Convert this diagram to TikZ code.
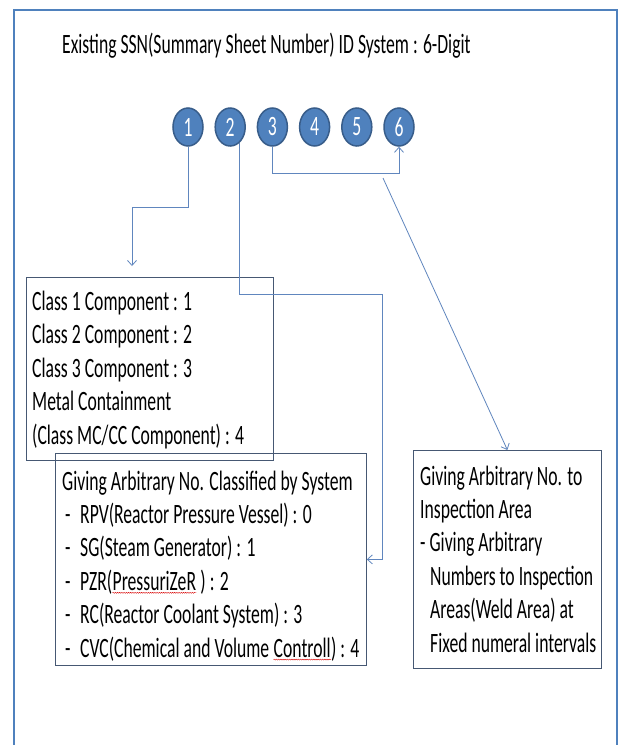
\documentclass[tikz,border=0pt]{standalone}
\usepackage{fontspec}
\setmainfont[FakeStretch=0.63]{Carlito}
\usetikzlibrary{positioning,shapes.geometric,arrows.meta,decorations.pathmorphing}
\definecolor{frameblue}{RGB}{79,129,189}
\definecolor{dotline}{RGB}{56,93,138}
\definecolor{linkblue}{RGB}{96,134,190}
\definecolor{boxline}{RGB}{70,88,115}
% red spell-check wave under a word
\newcommand{\wavy}[1]{\tikz[baseline=(w.base)]{\node[inner sep=0pt,anchor=base] (w) {#1};
\draw[red!85!black,line width=0.4pt,decorate,decoration={snake,amplitude=0.5pt,segment length=2.2pt}] ([yshift=-2.5pt]w.base west)--([yshift=-2.5pt]w.base east);}}
\newcommand{\sysitem}[1]{\hspace*{3pt}\makebox[15pt][l]{-}#1}
\tikzset{
  digit/.style={ellipse,fill=frameblue,draw=dotline,line width=1.5pt,minimum width=30pt,minimum height=38pt,inner sep=0pt,text=white},
  frame/.style={draw=boxline,line width=0.8pt,anchor=north west,inner sep=0pt},
  txt/.style={anchor=north west,inner sep=0pt,align=left},
  link/.style={draw=linkblue,line width=0.8pt,>={Straight Barb[length=5pt,width=9pt]}}
}

\begin{document}
\begin{tikzpicture}[x=1pt,y=-1pt,font=\fontsize{28}{33.4}\selectfont]
  \useasboundingbox (0,0) rectangle (621,745);
  \clip (0,0) rectangle (621,745);
  \fill[white] (0,0) rectangle (621,745);
  \draw[frameblue,line width=1.8pt] (14,10) rectangle (617,800);

  \node[anchor=base west,inner sep=0pt] (title) at (62,53) {Existing SSN(Summary Sheet Number) ID System : 6-Digit};

  % the six digits
  \foreach \i in {1,...,6}
    \node[digit] (d\i) at ({188+42.2*(\i-1)},127) {\i};

  % boxes
  \node[frame,minimum width=311pt,minimum height=212pt] (sysbox) at (55,453) {};
  \node[frame,minimum width=247pt,minimum height=183pt] (classbox) at (26,277) {};
  \node[frame,minimum width=188pt,minimum height=218pt] (areabox) at (413,450) {};

  \node[txt] (classtxt) at ([shift={(6,10)}]classbox.north west) {\strut Class 1 Component : 1\\
    Class 2 Component : 2\\
    Class 3 Component : 3\\
    Metal Containment\\
    (Class MC/CC Component) : 4};
  \node[txt] (systxt) at ([shift={(7,13.5)}]sysbox.north west) {\strut Giving Arbitrary No. Classified by System\\
    \sysitem{RPV(Reactor Pressure Vessel) : 0}\\
    \sysitem{SG(Steam Generator) : 1}\\
    \sysitem{PZR(\wavy{PressuriZeR} ) : 2}\\
    \sysitem{RC(Reactor Coolant System) : 3}\\
    \sysitem{CVC(Chemical and Volume \wavy{Controll}) : 4}};
  \node[txt] (areatxt) at ([shift={(7,11.5)}]areabox.north west) {\strut Giving Arbitrary No. to\\
    Inspection Area\\
    - Giving Arbitrary\\
    \hspace*{10pt}Numbers to Inspection\\
    \hspace*{10pt}Areas(Weld Area) at\\
    \hspace*{10pt}Fixed numeral intervals};

  % connectors
  \coordinate (c1bend) at (132,207);
  \coordinate (c1end) at (132,266);
  \draw[link,->] (d1.south) |- (c1bend) -- (c1end);
  \coordinate (c2bend) at (382,294);
  \draw[link,->] (d2.-60) |- (c2bend) |- (sysbox.east);
  \draw[link,->] (d3.south) -- ++(0,27) -| (d6.south);
  \coordinate (c4start) at (383,178);
  \draw[link,->] (c4start) -- (areabox.north);
\end{tikzpicture}
\end{document}
